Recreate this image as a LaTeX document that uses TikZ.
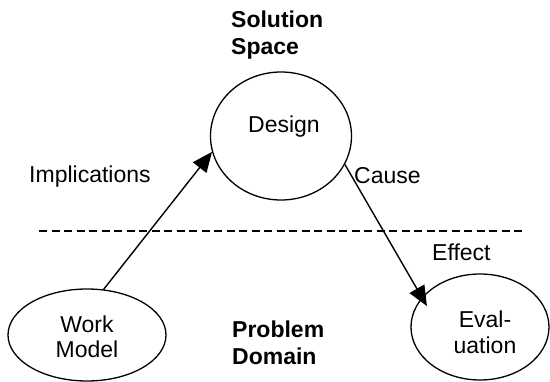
\documentclass[tikz,border=0pt]{standalone}
\usepackage{fontspec}
\setmainfont{Liberation Sans}
\usetikzlibrary{shapes.geometric,arrows.meta}
\begin{document}
\begin{tikzpicture}[x=1pt,y=-1pt,
  lbl/.style={inner sep=0pt, font=\fontsize{23}{25.5}\selectfont},
  blbl/.style={inner sep=0pt, font=\fontsize{23}{27.5}\selectfont\bfseries, align=left},
  ell/.style={draw, ellipse, line width=1.3pt, inner sep=0pt},
  conn/.style={line width=1.4pt, -{Triangle[length=20pt,width=17pt]}},
  sepline/.style={line width=1.3pt, dash pattern=on 8pt off 4.5pt}]
\useasboundingbox (0,0) rectangle (550,382);
% ellipses
\node[ell, minimum width=141pt, minimum height=128pt] (design) at (281,136) {};
\node[ell, minimum width=158pt, minimum height=92pt] (wm) at (87,335) {};
\node[ell, minimum width=138pt, minimum height=106pt] (eval) at (480,327) {};
% ellipse texts
\node[lbl, anchor=base] (designlbl) at (284,133) {Design};
\node[lbl, anchor=north, align=center] (wmlbl) at (87,315.5) {Work\\Model};
\node[lbl, anchor=north, align=center] (evallbl) at (485,311) {Eval-\\uation};
% region labels
\node[blbl, anchor=north west] (sol) at (231,10.5) {Solution\\Space};
\node[blbl, anchor=north west] (prob) at (232,320.5) {Problem\\Domain};
% connector labels
\node[lbl, anchor=base west] (impl) at (29,183) {Implications};
\node[lbl, anchor=base west] (cause) at (354,184) {Cause};
\node[lbl, anchor=base west] (effect) at (432,261) {Effect};
% dashed separator
\coordinate (sepL) at (39,231);
\coordinate (sepR) at (526,231);
\draw[sepline] (sepL) -- (sepR);
% connectors
\draw[conn] (wm.70) -- (design.193);
\draw[conn, shorten >=-10pt] (design.-24) -- (eval.153);
\end{tikzpicture}
\end{document}
